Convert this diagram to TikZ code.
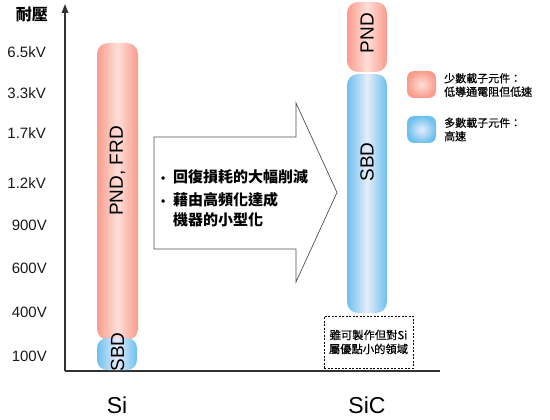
\documentclass[tikz,border=0pt]{standalone}
\usepackage{fontspec}
\setmainfont{Liberation Sans}
\newfontfamily\cjk{Noto Sans CJK TC}
\newfontfamily\cjkmed[FakeBold=0.6]{Noto Sans CJK TC}
\usetikzlibrary{arrows.meta}
\definecolor{pinkE}{RGB}{248,156,140}
\definecolor{pinkM}{RGB}{255,222,215}
\definecolor{blueE}{RGB}{108,192,238}
\definecolor{blueM}{RGB}{230,236,250}
\definecolor{axisgray}{RGB}{50,50,50}
\definecolor{arrgray}{RGB}{80,80,80}
\begin{document}
\begin{tikzpicture}[x=1pt,y=-1pt,
  bar/.style={rounded corners=11pt, inner sep=0pt, rotate=90, draw=none},
  pinkfill/.style={left color=pinkE, right color=pinkE, middle color=pinkM},
  bluefill/.style={left color=blueE, right color=blueE, middle color=blueM},
  ticklabel/.style={anchor=east, inner sep=0pt, font=\fontsize{15}{15}\selectfont, text=black!90},
  bartext/.style={rotate=90, inner sep=0pt, font=\fontsize{19}{19}\selectfont},
  matlabel/.style={inner sep=0pt, font=\fontsize{23}{23}\selectfont},
  legsq/.style={rounded corners=7pt, inner sep=0pt, minimum width=29pt, minimum height=27pt, draw=none},
  legtext/.style={anchor=west, align=left, inner sep=0pt, font=\cjkmed\fontsize{11}{13.5}\selectfont},
  axisline/.style={draw=axisgray, line width=1.6pt},
]
\useasboundingbox (0,0) rectangle (550,420);

% axes
\coordinate (origin) at (65,371);
\coordinate (ytop) at (65,4);
\coordinate (xend) at (440,371);
\draw[axisline, -{Triangle[width=6.5pt,length=9pt]}] (origin) -- (ytop);
\draw[axisline, line width=1.3pt] (origin) -- (xend);
\node[font=\cjk\bfseries\fontsize{16}{16}\selectfont, inner sep=0pt] (ylab) at (32,14) {耐壓};

% tick labels
\node[ticklabel] (t1) at (46,52) {6.5kV};
\node[ticklabel] (t2) at (46,93) {3.3kV};
\node[ticklabel] (t3) at (46,133) {1.7kV};
\node[ticklabel] (t4) at (46,183) {1.2kV};
\node[ticklabel] (t5) at (47,225) {900V};
\node[ticklabel] (t6) at (47,268) {600V};
\node[ticklabel] (t7) at (47,312) {400V};
\node[ticklabel] (t8) at (47,356) {100V};

% Si bars
\node[bar, pinkfill, minimum width=297pt, minimum height=41pt] (sipnd) at (117.5,191.5) {};
\node[bar, bluefill, minimum width=32pt, minimum height=40pt, rounded corners=10pt] (sisbd) at (117,354) {};
\node[bartext] (sipndtxt) at (117.5,171) {PND, FRD};
\node[bartext] (sisbdtxt) at (117.5,352) {SBD};
\node[matlabel] (si) at (117,405) {Si};

% SiC bars
\node[bar, pinkfill, minimum width=70pt, minimum height=40pt] (sicpnd) at (367,37) {};
\node[bar, bluefill, minimum width=239pt, minimum height=40pt] (sicsbd) at (367,193.5) {};
\node[bartext] (sicpndtxt) at (367,33) {PND};
\node[bartext] (sicsbdtxt) at (367,162) {SBD};
\node[matlabel] (sic) at (367,405) {SiC};

% block arrow
\coordinate (a1) at (154,137);
\coordinate (a2) at (296,137);
\coordinate (a3) at (296,103);
\coordinate (a4) at (337,192.5);
\coordinate (a5) at (296,282);
\coordinate (a6) at (296,249);
\coordinate (a7) at (154,249);
\draw[draw=arrgray, line width=0.7pt, fill=white] (a1) -- (a2) -- (a3) -- (a4) -- (a5) -- (a6) -- (a7) -- cycle;
\node[anchor=west, align=left, inner sep=0pt, font=\cjk\bfseries\fontsize{15}{20}\selectfont] (arrtxt) at (158,198.5)
  {\makebox[15pt][l]{\rmfamily\fontsize{12}{12}\selectfont\hspace{3pt}•}回復損耗的大幅削減\\[3pt]
   \makebox[15pt][l]{\rmfamily\fontsize{12}{12}\selectfont\hspace{3pt}•}藉由高頻化達成\\
   \makebox[15pt][l]{}機器的小型化};

% note box
\node[draw=black, dash pattern=on 2pt off 1.5pt, line width=0.6pt, minimum width=89pt, minimum height=52pt,
      align=center, inner sep=0pt, font=\cjkmed\fontsize{11.3}{14}\selectfont] (note) at (368.5,342)
  {雖可製作但對Si\\屬優點小的領域};

% legend
\node[legsq, inner color=pinkM, outer color=pinkE] (legpink) at (421.5,84.5) {};
\node[legsq, inner color=blueM, outer color=blueE] (legblue) at (421.5,129.5) {};
\node[legtext] (legpinktxt) at (444,85) {少數載子元件：\\低導通電阻但低速};
\node[legtext] (legbluetxt) at (444,129.5) {多數載子元件：\\高速};
\end{tikzpicture}
\end{document}
